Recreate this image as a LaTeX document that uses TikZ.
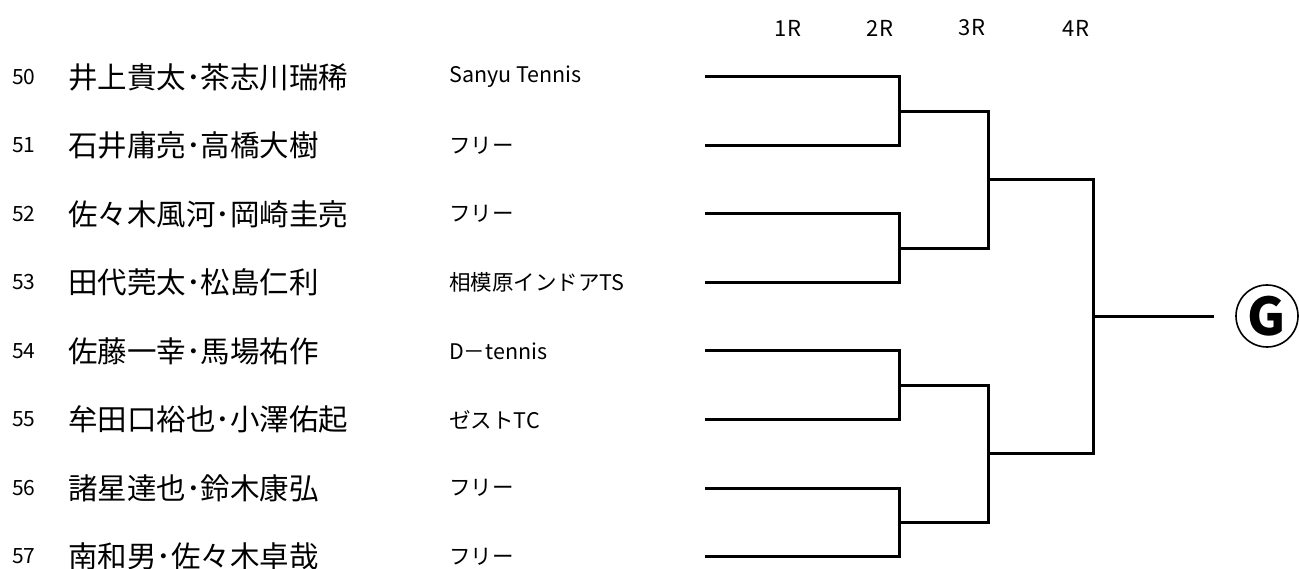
\documentclass[tikz,border=0pt]{standalone}
\usepackage{fontspec}
\setmainfont{Noto Sans CJK JP}
\usetikzlibrary{positioning}

\tikzset{
  numlabel/.style={anchor=west,inner sep=0pt,font=\fontsize{21}{24}\selectfont},
  namelabel/.style={anchor=west,inner sep=0pt,font=\fontsize{29.5}{32}\selectfont},
  clublabel/.style={anchor=west,inner sep=0pt,font=\fontsize{21.5}{24}\selectfont},
  roundlabel/.style={inner sep=0pt,font=\fontsize{22}{24}\selectfont},
  bracket/.style={line width=3pt},
  blocklabel/.style={draw,circle,line width=1.6pt,minimum size=62pt,inner sep=0pt,font=\fontsize{52}{56}\selectfont\bfseries},
}

\begin{document}
\begin{tikzpicture}[x=1pt,y=-1pt]
\useasboundingbox (0,0) rectangle (1299,569);
% round headings
\foreach \r/\xr in {1/788,2/880,3/972,4/1076}
  \node[roundlabel] (round\r) at (\xr,28) {\r R};
% players
\foreach \num/\pl/\cl [count=\k] in {
  50/井上貴太･茶志川瑞稀/Sanyu Tennis,
  51/石井庸亮･高橋大樹/フリー,
  52/佐々木風河･岡崎圭亮/フリー,
  53/田代莞太･松島仁利/相模原インドアTS,
  54/佐藤一幸･馬場祐作/D－tennis,
  55/牟田口裕也･小澤佑起/ゼストTC,
  56/諸星達也･鈴木康弘/フリー,
  57/南和男･佐々木卓哉/フリー}
{
  \pgfmathsetmacro{\yr}{77+68.5*(\k-1)}
  \node[numlabel] (num\k) at (12,\yr) {\num};
  \node[namelabel] (name\k) at (68,\yr) {\pl};
  \node[clublabel] (club\k) at (449,\yr) {\cl};
  \coordinate (p\k) at (705,\yr);
}
% junctions
\coordinate (a1) at (899,111.25);
\coordinate (a2) at (899,248.25);
\coordinate (a3) at (899,385.25);
\coordinate (a4) at (899,522.25);
\coordinate (b1) at (988,179.75);
\coordinate (b2) at (988,453.75);
\coordinate (c1) at (1093,316.75);
\coordinate (win) at (1214,316.75);
\node[blocklabel] (block) at (1267,316) {G};
% bracket
\draw[bracket] (p1) -| (a1) |- (p2);
\draw[bracket] (p3) -| (a2) |- (p4);
\draw[bracket] (p5) -| (a3) |- (p6);
\draw[bracket] (p7) -| (a4) |- (p8);
\draw[bracket] (a1) -| (b1) |- (a2);
\draw[bracket] (a3) -| (b2) |- (a4);
\draw[bracket] (b1) -| (c1) |- (b2);
\draw[bracket] (c1) -- (win);
\end{tikzpicture}
\end{document}
